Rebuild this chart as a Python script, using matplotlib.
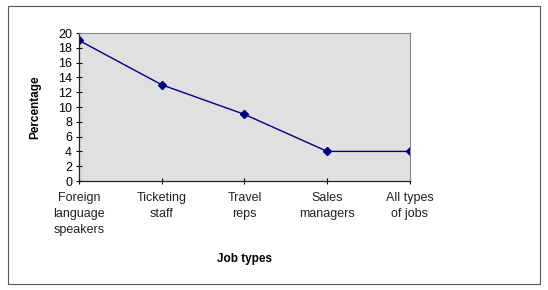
import matplotlib.pyplot as plt
from matplotlib.patches import Rectangle

plt.rcParams['font.family'] = ['Liberation Sans', 'DejaVu Sans']

jobs = ["Foreign\nlanguage\nspeakers", "Ticketing\nstaff", "Travel\nreps", "Sales\nmanagers", "All types\nof jobs"]
percent = [19, 13, 9, 4, 4]

fig = plt.figure(figsize=(5.48, 2.90), dpi=100)
# outer chart frame
fig.patches.append(Rectangle((8 / 548, 6 / 290), 532 / 548, 278 / 290, transform=fig.transFigure,
                             fill=False, edgecolor='#555555', linewidth=0.8))

ax = fig.add_axes([79 / 548, 1 - 181 / 290, 331 / 548, 148 / 290])
ax.set_facecolor('#e0e0e0')
x = list(range(len(jobs)))
ax.plot(x, percent, color='#000080', marker='D', markersize=4, linewidth=1)

ax.set_xlim(0, len(jobs) - 1)
ax.set_ylim(0, 20)
ax.set_yticks(range(0, 21, 2))
ax.set_xticks(x)
ax.set_xticklabels(jobs, fontsize=9, color='#222222', linespacing=1.45)
ax.tick_params(axis='y', labelsize=9, length=4, direction='inout', width=0.8, pad=3)
ax.tick_params(axis='x', length=4, direction='inout', width=0.8, pad=6)
for s in ['top', 'right']:
    ax.spines[s].set_color('#888888')
    ax.spines[s].set_linewidth(0.8)
for s in ['left', 'bottom']:
    ax.spines[s].set_color('#222222')
    ax.spines[s].set_linewidth(0.9)

ax.set_ylabel("Percentage", fontsize=8.5, fontweight='bold', labelpad=12)
ax.set_xlabel("Job types", fontsize=8.5, fontweight='bold', labelpad=12)

fig.savefig("out.png", dpi=100)
